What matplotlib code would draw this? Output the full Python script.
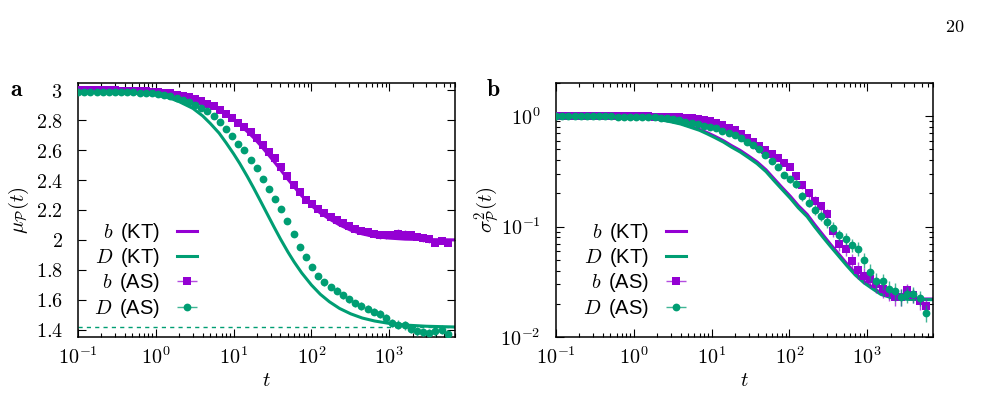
import matplotlib
matplotlib.use("Agg")
import matplotlib.pyplot as plt
import numpy as np
from matplotlib.colors import to_rgba
from matplotlib.ticker import FixedLocator, FuncFormatter, LogLocator, NullFormatter
from matplotlib.legend_handler import HandlerErrorbar
from matplotlib.container import ErrorbarContainer

plt.rcParams["mathtext.fontset"] = "cm"
plt.rcParams["font.family"] = ["Liberation Sans", "DejaVu Sans"]

purple = "#9400d3"
green = "#009e73"

# sampling times of the simulation (AS) points
t_as = [0.1, 0.12, 0.144, 0.173, 0.207, 0.249, 0.299, 0.358, 0.43, 0.516, 0.619, 0.743, 0.892,
        1.07, 1.28, 1.54, 1.85, 2.22, 2.66, 3.19, 3.83, 4.6, 5.52, 6.62, 7.95, 9.54,
        11.4, 13.7, 16.5, 19.8, 23.7, 28.5, 34.2, 41.0, 49.2, 59.1, 70.9, 85.1, 102,
        122, 147, 176, 212, 254, 305, 366, 439, 527, 632, 758, 910, 1092, 1310,
        1572, 1887, 2264, 2717, 3260, 3912, 4695, 5634]

# panel a: mean
mu_b_as = [3.0, 3.0, 3.0, 3.0, 3.0, 3.0, 3.0, 2.999, 2.998, 2.997, 2.996, 2.994, 2.992,
           2.99, 2.985, 2.98, 2.972, 2.963, 2.953, 2.942, 2.928, 2.912, 2.893, 2.87, 2.845, 2.815,
           2.785, 2.755, 2.72, 2.68, 2.635, 2.59, 2.545, 2.49, 2.43, 2.37, 2.32, 2.27, 2.24,
           2.21, 2.18, 2.155, 2.13, 2.11, 2.09, 2.075, 2.06, 2.05, 2.04, 2.03, 2.03, 2.035, 2.04,
           2.035, 2.03, 2.02, 2.01, 2.005, 1.98, 1.99, 1.98]
mu_b_err = [0.002] * 13 + \
           [0.004, 0.004, 0.005, 0.005, 0.006, 0.006, 0.007, 0.007, 0.008, 0.008, 0.009, 0.009, 0.01] + \
           [0.01, 0.011, 0.012, 0.012, 0.013, 0.013, 0.014, 0.014, 0.015, 0.015, 0.016, 0.016, 0.017] + \
           [0.018, 0.018, 0.019, 0.019, 0.02, 0.02, 0.02, 0.021, 0.021, 0.022, 0.022, 0.023, 0.025, 0.03] + \
           [0.028, 0.025, 0.024, 0.024, 0.023, 0.02, 0.02, 0.02]
mu_D_as = [2.993, 2.993, 2.993, 2.992, 2.992, 2.991, 2.99, 2.99, 2.989, 2.988, 2.986, 2.984, 2.981,
           2.977, 2.971, 2.962, 2.949, 2.935, 2.92, 2.902, 2.883, 2.86, 2.83, 2.79, 2.745, 2.695,
           2.645, 2.6, 2.535, 2.48, 2.41, 2.34, 2.275, 2.205, 2.125, 2.04, 1.955, 1.885, 1.82,
           1.76, 1.715, 1.683, 1.66, 1.628, 1.602, 1.575, 1.558, 1.54, 1.52, 1.505, 1.48, 1.442, 1.432,
           1.43, 1.405, 1.388, 1.382, 1.375, 1.39, 1.397, 1.37]
mu_D_err = [0.002] * 13 + \
           [0.003, 0.003, 0.004, 0.004, 0.005, 0.006, 0.007, 0.008, 0.009, 0.01, 0.011, 0.012, 0.012] + \
           [0.013, 0.014, 0.015, 0.015, 0.016, 0.017, 0.017, 0.018, 0.018, 0.019, 0.019, 0.02, 0.02] + \
           [0.02, 0.021, 0.021, 0.022, 0.022, 0.023, 0.023, 0.024, 0.024, 0.025, 0.025, 0.026, 0.028, 0.03] + \
           [0.03, 0.03, 0.03, 0.03, 0.03, 0.03, 0.03, 0.03]

t_kt_a = [0.1, 0.3, 0.6, 1, 1.5, 2, 3, 4, 5, 6.5, 8, 10, 12, 15, 18, 22, 27, 33, 40, 50,
          60, 75, 100, 130, 170, 230, 320, 450, 650, 1000, 1600, 3000, 7000]
mu_b_kt = [3.0, 2.999, 2.996, 2.99, 2.98, 2.968, 2.945, 2.922, 2.9, 2.87, 2.84, 2.805, 2.77,
           2.725, 2.685, 2.635, 2.58, 2.525, 2.47, 2.405, 2.355, 2.295, 2.23, 2.18, 2.14, 2.10,
           2.065, 2.04, 2.022, 2.012, 2.005, 2.002, 2.0]
mu_D_kt = [3.0, 2.998, 2.99, 2.97, 2.95, 2.925, 2.88, 2.83, 2.78, 2.715, 2.65, 2.576, 2.511,
           2.424, 2.349, 2.263, 2.174, 2.087, 2.006, 1.918, 1.852, 1.779, 1.698, 1.636, 1.586, 1.541,
           1.505, 1.477, 1.457, 1.441, 1.430, 1.422, 1.417]
mu_D_limit = 1.414

# panel b: variance
var_b_as = [1.0] * 13 + \
           [0.998, 0.997, 0.995, 0.993, 0.99, 0.986, 0.98, 0.975, 0.965, 0.955, 0.94, 0.925, 0.90] + \
           [0.87, 0.835, 0.79, 0.745, 0.69, 0.64, 0.585, 0.535, 0.49, 0.455, 0.42, 0.38, 0.35] + \
           [0.285, 0.24, 0.20, 0.172, 0.153, 0.131, 0.092, 0.07, 0.063, 0.049, 0.0405, 0.036, 0.0335, 0.03] + \
           [0.0272, 0.025, 0.023, 0.0231, 0.0265, 0.024, 0.021, 0.019]
var_b_err = [0.003] * 13 + \
            [0.004, 0.004, 0.005, 0.005, 0.006, 0.006, 0.007, 0.008, 0.009, 0.01, 0.011, 0.012, 0.013] + \
            [0.014, 0.015, 0.016, 0.017, 0.018, 0.019, 0.02, 0.021, 0.022, 0.022, 0.023, 0.023, 0.023] + \
            [0.022, 0.02, 0.018, 0.016, 0.015, 0.013, 0.011, 0.01, 0.009, 0.008, 0.007, 0.006, 0.0055, 0.005] + \
            [0.0045, 0.004, 0.004, 0.004, 0.004, 0.0035, 0.0035, 0.003]
var_D_as = [0.995] * 10 + [0.994, 0.993, 0.992] + \
           [0.99, 0.985, 0.98, 0.975, 0.965, 0.955, 0.94, 0.925, 0.895, 0.865, 0.85, 0.82, 0.805] + \
           [0.78, 0.74, 0.705, 0.67, 0.63, 0.59, 0.552, 0.50, 0.445, 0.39, 0.345, 0.295, 0.27] + \
           [0.245, 0.19, 0.165, 0.142, 0.126, 0.11, 0.098, 0.084, 0.078, 0.068, 0.063, 0.05, 0.039, 0.032] + \
           [0.032, 0.0273, 0.026, 0.0232, 0.0243, 0.0243, 0.0225, 0.0166]
var_D_err = [0.003] * 13 + \
            [0.004, 0.004, 0.005, 0.005, 0.006, 0.006, 0.007, 0.008, 0.009, 0.01, 0.011, 0.012, 0.012] + \
            [0.013, 0.014, 0.015, 0.016, 0.017, 0.018, 0.019, 0.02, 0.02, 0.02, 0.02, 0.02, 0.02] + \
            [0.02, 0.018, 0.016, 0.014, 0.013, 0.012, 0.011, 0.01, 0.0095, 0.009, 0.009, 0.008, 0.007, 0.006] + \
            [0.0055, 0.005, 0.005, 0.004, 0.004, 0.004, 0.0035, 0.003]

t_kt_b = [0.1, 0.3, 0.6, 1, 1.5, 2, 3, 4, 5.3, 7, 8.7, 11, 14.2, 18, 23.3, 30, 38.3, 50, 62.7,
          80, 103, 130, 169, 210, 270, 338, 430, 555, 700, 910, 1200, 1500, 2000, 2500,
          3500, 5000, 7000]
var_b_kt = [1.0, 0.998, 0.992, 0.981, 0.965, 0.947, 0.9, 0.862, 0.81, 0.76, 0.712, 0.658, 0.6,
            0.542, 0.49, 0.435, 0.386, 0.327, 0.274, 0.227, 0.188, 0.155, 0.129, 0.105, 0.084,
            0.069, 0.0565, 0.0455, 0.038, 0.032, 0.0278, 0.025, 0.0233, 0.0226, 0.0222, 0.0221, 0.0221]
var_D_kt = [0.999, 0.997, 0.99, 0.978, 0.96, 0.94, 0.89, 0.85, 0.796, 0.745, 0.694, 0.64, 0.583,
            0.525, 0.474, 0.42, 0.372, 0.315, 0.263, 0.218, 0.18, 0.148, 0.123, 0.10, 0.08,
            0.066, 0.054, 0.0437, 0.0365, 0.0309, 0.027, 0.0243, 0.0228, 0.0222, 0.0219, 0.0218, 0.0218]

labels = [r"$b\,$ (KT)", r"$D\,$ (KT)", r"$b\,$ (AS)", r"$D\,$ (AS)"]

fig = plt.figure(figsize=(9.85, 3.96), dpi=100)
ax1 = fig.add_axes([78 / 985, 59 / 396, 377 / 985, 254 / 396])
ax2 = fig.add_axes([556 / 985, 59 / 396, 377 / 985, 254 / 396])

tick_fmt = FuncFormatter(lambda v, p: r"$10^{%d}$" % round(np.log10(v)))


def draw(ax, t_kt, b_kt, D_kt, b_as, b_err, D_as, D_err):
    ax.plot(t_kt, b_kt, color=purple, lw=2.2, zorder=2)
    ax.plot(t_kt, D_kt, color=green, lw=2.2, zorder=2)
    ax.errorbar(t_as, b_as, yerr=b_err, fmt="s", color=purple, ms=6.3, mew=0,
                ecolor=to_rgba(purple, 0.7), elinewidth=1, capsize=2.8, capthick=1, zorder=3)
    ax.errorbar(t_as, D_as, yerr=D_err, fmt="o", color=green, ms=5.6, mew=0,
                ecolor=to_rgba(green, 0.75), elinewidth=1, capsize=2.8, capthick=1, zorder=4)
    ax.set_xscale("log")
    ax.set_xlim(0.1, 7000)
    ax.xaxis.set_major_locator(FixedLocator([0.1, 1, 10, 100, 1000]))
    ax.xaxis.set_minor_locator(LogLocator(base=10, subs=np.arange(2, 10), numticks=20))
    ax.xaxis.set_major_formatter(tick_fmt)
    ax.xaxis.set_minor_formatter(NullFormatter())
    ax.tick_params(which="both", direction="in", top=True, right=True, labelsize=14.5)
    ax.tick_params(axis="x", pad=7)
    ax.tick_params(axis="y", pad=11)
    ax.tick_params(which="major", length=6, width=0.8)
    ax.tick_params(which="minor", length=3, width=0.8)
    for s in ax.spines.values():
        s.set_linewidth(1.1)
    ax.set_xlabel(r"$t$", fontsize=15, labelpad=2)

    # gnuplot-style legend: text first, horizontal error bar in the key
    h1, = ax.plot([], [], color=purple, lw=2.2)
    h2, = ax.plot([], [], color=green, lw=2.2)
    h3 = ax.errorbar([np.nan], [np.nan], xerr=[1], fmt="s", color=purple, ms=6.3, mew=0,
                     ecolor=to_rgba(purple, 0.7), elinewidth=1, capsize=2.8)
    h4 = ax.errorbar([np.nan], [np.nan], xerr=[1], fmt="o", color=green, ms=5.6, mew=0,
                     ecolor=to_rgba(green, 0.75), elinewidth=1, capsize=2.8)
    return [h1, h2, h3, h4]


legend_kw = dict(loc="upper right", frameon=False, markerfirst=False, fontsize=14.5,
                 handlelength=1.0, handletextpad=0.85, labelspacing=0.11, borderpad=0,
                 borderaxespad=0,
                 handler_map={ErrorbarContainer: HandlerErrorbar(xerr_size=0.5)})

hs = draw(ax1, t_kt_a, mu_b_kt, mu_D_kt, mu_b_as, mu_b_err, mu_D_as, mu_D_err)
ax1.axhline(mu_D_limit, color=green, lw=1, ls=(0, (3, 3)), zorder=1)
ax1.set_ylim(1.35, 3.05)
ax1.yaxis.set_major_locator(FixedLocator([1.4, 1.6, 1.8, 2.0, 2.2, 2.4, 2.6, 2.8, 3.0]))
ax1.yaxis.set_major_formatter(FuncFormatter(lambda v, p: r"$%g$" % round(v, 1)))
ax1.set_ylabel(r"$\mu_{\mathcal{P}}(t)$", fontsize=15, labelpad=3)
ax1.legend(hs, labels, bbox_to_anchor=(0.316, 0.457), **legend_kw)

hs = draw(ax2, t_kt_b, var_b_kt, var_D_kt, var_b_as, var_b_err, var_D_as, var_D_err)
ax2.set_yscale("log")
ax2.set_ylim(0.01, 2)
ax2.yaxis.set_major_locator(FixedLocator([0.01, 0.1, 1]))
ax2.yaxis.set_minor_locator(LogLocator(base=10, subs=np.arange(2, 10), numticks=20))
ax2.yaxis.set_major_formatter(tick_fmt)
ax2.yaxis.set_minor_formatter(NullFormatter())
ax2.set_ylabel(r"$\sigma^2_{\mathcal{P}}(t)$", fontsize=15, labelpad=-1)
ax2.legend(hs, labels, bbox_to_anchor=(0.345, 0.457), **legend_kw)

fig.text(10 / 985, 1 - 96 / 396, r"$\mathbf{a}$", fontsize=17, va="baseline")
fig.text(486 / 985, 1 - 96 / 396, r"$\mathbf{b}$", fontsize=17, va="baseline")
fig.text(955 / 985, 1 - 28 / 396, r"$20$", fontsize=13, ha="center", va="center")

fig.savefig("out.png", dpi=100)
